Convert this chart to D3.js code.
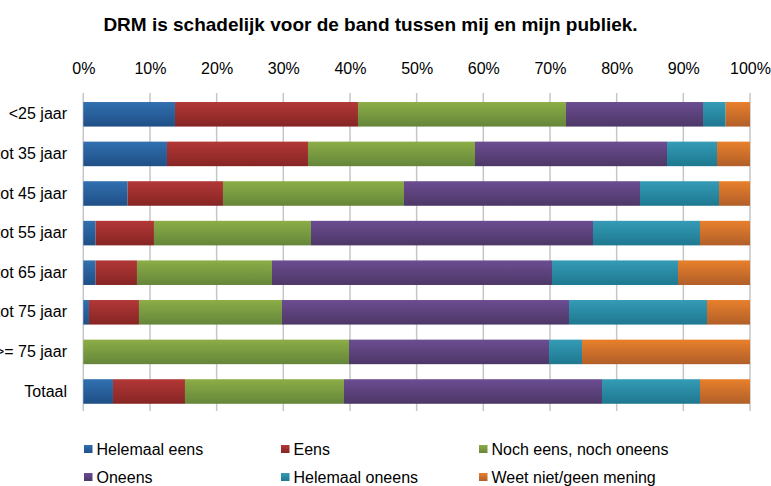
<!DOCTYPE html>
<html><head><meta charset="utf-8">
<script src="https://cdn.jsdelivr.net/npm/d3@7"></script>
<style>body{margin:0;background:#fff}svg{display:block}text{font-family:"Liberation Sans",Arial,sans-serif}</style>
</head><body><svg id="c" width="771" height="486"></svg>
<script>
const title = "DRM is schadelijk voor de band tussen mij en mijn publiek.";
const categories = ["<25 jaar","25 tot 35 jaar","35 tot 45 jaar","45 tot 55 jaar","55 tot 65 jaar","65 tot 75 jaar",">= 75 jaar","Totaal"];
const seriesNames = ["Helemaal eens","Eens","Noch eens, noch oneens","Oneens","Helemaal oneens","Weet niet/geen mening"];
const helemaalEens   = [13.75,12.55, 6.65, 1.85, 1.85, 0.85, 0,     4.45];
const eens           = [27.45,21.15,14.3,  8.75, 6.2,  7.5,  0,    10.8];
const noch           = [31.2, 25.05,27.15,23.55,20.25,21.45,39.85,23.85];
const oneens         = [20.55,28.8, 35.4, 42.3, 42.0, 43.05,30.0, 38.7];
const helemaalOneens = [3.4,  7.5,  11.85,16.05,18.9, 20.7,  4.95,14.7];
const weetNiet       = [3.65, 4.95, 4.65, 7.5, 10.8,  6.45, 25.2,  7.5];
const tickValues = [0,10,20,30,40,50,60,70,80,90,100];

const seriesValues = [helemaalEens,eens,noch,oneens,helemaalOneens,weetNiet];
const colors = [["#3170b0","#1f4f86"],["#b23837","#862524"],["#8cad46","#65863a"],["#6b4d91","#4d3767"],["#359bb6","#1e7890"],["#e8802c","#b15f29"]];

const svg = d3.select("#c");
const x = d3.scaleLinear().domain([0,100]).range([83.3,750]);
const y = d3.scaleBand().domain(categories).range([94.5,411.3]).paddingInner(0.38).paddingOuter(0.19);

const defs = svg.append("defs");
colors.forEach((c,i)=>{
  const g = defs.append("linearGradient").attr("id","g"+i).attr("x1",0).attr("y1",0).attr("x2",0).attr("y2",1);
  g.append("stop").attr("offset","0%").attr("stop-color",c[0]);
  g.append("stop").attr("offset","100%").attr("stop-color",c[1]);
});

// title
svg.append("text").attr("x",370.5).attr("y",31).attr("text-anchor","middle")
  .attr("font-size",19).attr("font-weight","bold").attr("fill","#000").text(title);

// gridlines
svg.append("g").selectAll("line").data(tickValues).join("line")
  .attr("x1",d=>x(d)).attr("x2",d=>x(d)).attr("y1",93).attr("y2",411)
  .attr("stroke","#c6c6c6").attr("stroke-width",1.5);

// top axis labels
const ax = svg.append("g").attr("transform","translate(0,74)")
  .call(d3.axisTop(x).tickValues(tickValues).tickFormat(d=>d+"%").tickSize(0).tickPadding(0));
ax.select(".domain").remove();
ax.selectAll("text").attr("font-size",16).attr("fill","#000").attr("font-family","Liberation Sans, Arial, sans-serif");

// bars
const rows = categories.map((c,ci)=>{
  let acc=0;
  return seriesValues.map((s,si)=>{const v=s[ci];const d={cat:c,si,x0:acc,x1:acc+v};acc+=v;return d;});
});
const scaleFix = rows.map(r=>100/r[r.length-1].x1);
svg.append("g").selectAll("g").data(rows).join("g").selectAll("rect")
  .data((r,ri)=>r.map(d=>({...d,k:scaleFix[ri]}))).join("rect")
  .attr("x",d=>x(d.x0*d.k)).attr("width",d=>Math.max(0,x(d.x1*d.k)-x(d.x0*d.k)))
  .attr("y",d=>y(d.cat)).attr("height",y.bandwidth())
  .attr("fill",d=>`url(#g${d.si})`);

// category labels
const ya = svg.append("g").attr("transform","translate(67,0)")
  .call(d3.axisLeft(y).tickSize(0).tickPadding(0));
ya.select(".domain").remove();
ya.selectAll("text").attr("font-size",16).attr("fill","#000").attr("font-family","Liberation Sans, Arial, sans-serif");

// legend
const legX = [84,281,479], legY=[455,483];
const lg = svg.append("g").selectAll("g").data(seriesNames).join("g")
  .attr("transform",(d,i)=>`translate(${legX[i%3]},${legY[Math.floor(i/3)]})`);
lg.append("rect").attr("x",0).attr("y",-10).attr("width",8.5).attr("height",8).attr("fill",(d,i)=>`url(#g${i})`);
lg.append("text").attr("x",12.5).attr("y",0).attr("font-size",16).attr("fill","#000").text(d=>d);
</script></body></html>
